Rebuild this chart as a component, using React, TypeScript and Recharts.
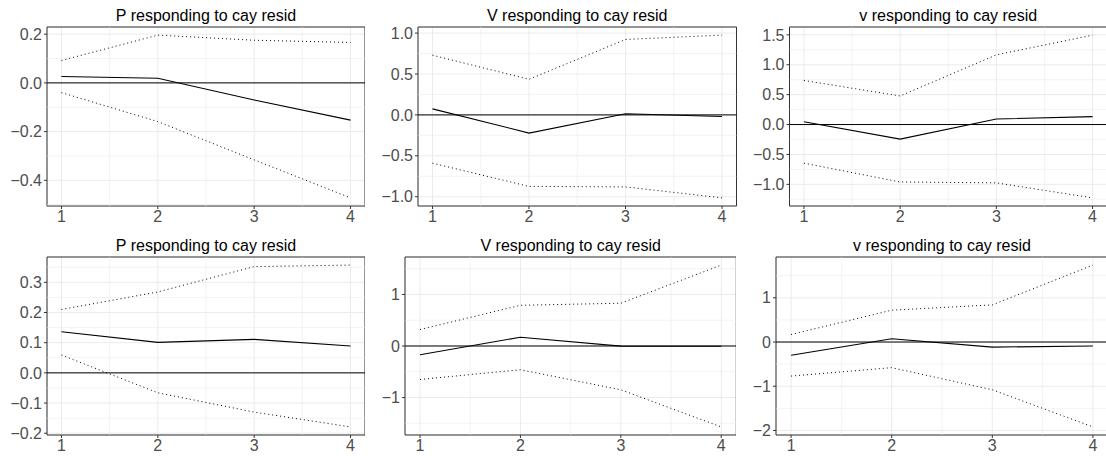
import React from 'react';
import { LineChart, Line, XAxis, YAxis, CartesianGrid, ReferenceLine, ReferenceArea } from 'recharts';

const horizons = [1, 2, 3, 4];
const xTicks = [1, 2, 3, 4];
const xMinor = [1.5, 2.5, 3.5];

// Row 1
const t1 = 'P responding to cay resid';
const p1Upper = [0.092, 0.196, 0.175, 0.166];
const p1Mean = [0.026, 0.019, -0.07, -0.153];
const p1Lower = [-0.04, -0.159, -0.316, -0.472];
const p1YTicks = [-0.4, -0.2, 0, 0.2];
const p1YMinor = [-0.5, -0.3, -0.1, 0.1];

const t2 = 'V responding to cay resid';
const p2Upper = [0.73, 0.435, 0.922, 0.975];
const p2Mean = [0.074, -0.222, 0.015, -0.02];
const p2Lower = [-0.59, -0.874, -0.88, -1.014];
const p2YTicks = [-1, -0.5, 0, 0.5, 1];
const p2YMinor = [-0.75, -0.25, 0.25, 0.75];

const t3 = 'v responding to cay resid';
const p3Upper = [0.737, 0.478, 1.165, 1.495];
const p3Mean = [0.047, -0.243, 0.093, 0.133];
const p3Lower = [-0.646, -0.96, -0.975, -1.226];
const p3YTicks = [-1, -0.5, 0, 0.5, 1, 1.5];
const p3YMinor = [-1.25, -0.75, -0.25, 0.25, 0.75, 1.25];

// Row 2
const t4 = 'P responding to cay resid';
const p4Upper = [0.21, 0.268, 0.352, 0.357];
const p4Mean = [0.136, 0.101, 0.111, 0.089];
const p4Lower = [0.059, -0.066, -0.13, -0.179];
const p4YTicks = [-0.2, -0.1, 0, 0.1, 0.2, 0.3];
const p4YMinor = [-0.15, -0.05, 0.05, 0.15, 0.25, 0.35];

const t5 = 'V responding to cay resid';
const p5Upper = [0.32, 0.79, 0.83, 1.57];
const p5Mean = [-0.17, 0.17, -0.003, -0.004];
const p5Lower = [-0.65, -0.46, -0.85, -1.57];
const p5YTicks = [-1, 0, 1];
const p5YMinor = [-1.5, -0.5, 0.5, 1.5];

const t6 = 'v responding to cay resid';
const p6Upper = [0.17, 0.72, 0.84, 1.74];
const p6Mean = [-0.3, 0.075, -0.115, -0.09];
const p6Lower = [-0.77, -0.58, -1.08, -1.92];
const p6YTicks = [-2, -1, 0, 1];
const p6YMinor = [-1.5, -0.5, 0.5, 1.5];

const FONT = "'Liberation Sans', Arial, Helvetica, sans-serif";

type PanelProps = {
  title: string;
  upper: number[];
  mean: number[];
  lower: number[];
  yTicks: number[];
  yMinor: number[];
  decimals: number;
  left: number;
  top: number;
  width: number;
  height: number;
  yAxisWidth: number;
  marginTop: number;
  xAxisHeight: number;
};

const fmt = (d: number) => (v: number) => {
  const s = Number(v).toFixed(d);
  return s.startsWith('-') ? '\u2212' + s.slice(1) : s;
};

function Panel(p: PanelProps) {
  const data = horizons.map((h, i) => ({ h, upper: p.upper[i], mean: p.mean[i], lower: p.lower[i] }));
  const all = [...p.upper, ...p.mean, ...p.lower, 0];
  const mn = Math.min(...all);
  const mx = Math.max(...all);
  const pad = (mx - mn) * 0.05;
  const lo = mn - pad;
  const hi = mx + pad;
  const xLo = 0.85;
  const xHi = 4.15;
  return (
    <div style={{ position: 'absolute', left: p.left, top: p.top }}>
      <LineChart
        width={p.width}
        height={p.height}
        data={data}
        margin={{ top: p.marginTop, right: 0, bottom: 0, left: 0 }}
      >
        <CartesianGrid stroke="#EBEBEB" strokeWidth={1} />
        {xMinor.map((x) => (
          <ReferenceLine key={'xm' + x} x={x} stroke="#EBEBEB" strokeWidth={0.6} />
        ))}
        {p.yMinor.map((y) => (
          <ReferenceLine key={'ym' + y} y={y} stroke="#EBEBEB" strokeWidth={0.6} ifOverflow="discard" />
        ))}
        <XAxis
          type="number"
          dataKey="h"
          domain={[xLo, xHi]}
          ticks={xTicks}
          allowDataOverflow
          interval={0}
          axisLine={false}
          tickLine={{ stroke: '#333333' }}
          tickSize={3}
          tickMargin={2}
          height={p.xAxisHeight}
          tick={{ fill: '#4D4D4D', fontSize: 16, fontFamily: FONT }}
        />
        <YAxis
          type="number"
          domain={[lo, hi]}
          ticks={p.yTicks}
          allowDataOverflow
          interval={0}
          axisLine={false}
          tickLine={{ stroke: '#333333' }}
          tickSize={3}
          tickMargin={2}
          width={p.yAxisWidth}
          tickFormatter={fmt(p.decimals)}
          tick={{ fill: '#4D4D4D', fontSize: 16, fontFamily: FONT }}
        />
        <ReferenceLine y={0} stroke="#000000" strokeWidth={1} />
        <Line type="linear" dataKey="upper" stroke="#000000" strokeWidth={1} strokeDasharray="1 3" dot={false} isAnimationActive={false} />
        <Line type="linear" dataKey="lower" stroke="#000000" strokeWidth={1} strokeDasharray="1 3" dot={false} isAnimationActive={false} />
        <Line type="linear" dataKey="mean" stroke="#000000" strokeWidth={1.1} dot={false} isAnimationActive={false} />
        <ReferenceArea
          x1={xLo}
          x2={xHi}
          y1={lo}
          y2={hi}
          fill="none"
          fillOpacity={0}
          stroke="#333333"
          strokeWidth={1}
          ifOverflow="visible"
          label={{ value: p.title, position: 'top', offset: 6, fill: '#000000', fontSize: 16, fontFamily: FONT }}
        />
      </LineChart>
    </div>
  );
}

export default function App() {
  return (
    <div
      style={{
        position: 'absolute',
        left: 0,
        top: 0,
        width: 1106,
        height: 456,
        overflow: 'hidden',
        background: '#FFFFFF',
        fontFamily: FONT,
      }}
    >
      <Panel title={t1} upper={p1Upper} mean={p1Mean} lower={p1Lower} yTicks={p1YTicks} yMinor={p1YMinor} decimals={1}
        left={0} top={0} width={365} height={228} yAxisWidth={47} marginTop={27} xAxisHeight={22} />
      <Panel title={t2} upper={p2Upper} mean={p2Mean} lower={p2Lower} yTicks={p2YTicks} yMinor={p2YMinor} decimals={1}
        left={368} top={0} width={368.5} height={228} yAxisWidth={50} marginTop={27} xAxisHeight={22} />
      <Panel title={t3} upper={p3Upper} mean={p3Mean} lower={p3Lower} yTicks={p3YTicks} yMinor={p3YMinor} decimals={1}
        left={737} top={0} width={370} height={228} yAxisWidth={52.5} marginTop={27} xAxisHeight={22} />
      <Panel title={t4} upper={p4Upper} mean={p4Mean} lower={p4Lower} yTicks={p4YTicks} yMinor={p4YMinor} decimals={1}
        left={0} top={228} width={365} height={228} yAxisWidth={47} marginTop={29} xAxisHeight={21} />
      <Panel title={t5} upper={p5Upper} mean={p5Mean} lower={p5Lower} yTicks={p5YTicks} yMinor={p5YMinor} decimals={0}
        left={368} top={228} width={368.3} height={228} yAxisWidth={37} marginTop={29} xAxisHeight={21} />
      <Panel title={t6} upper={p6Upper} mean={p6Mean} lower={p6Lower} yTicks={p6YTicks} yMinor={p6YMinor} decimals={0}
        left={737} top={228} width={371} height={228} yAxisWidth={39} marginTop={29} xAxisHeight={21} />
    </div>
  );
}
